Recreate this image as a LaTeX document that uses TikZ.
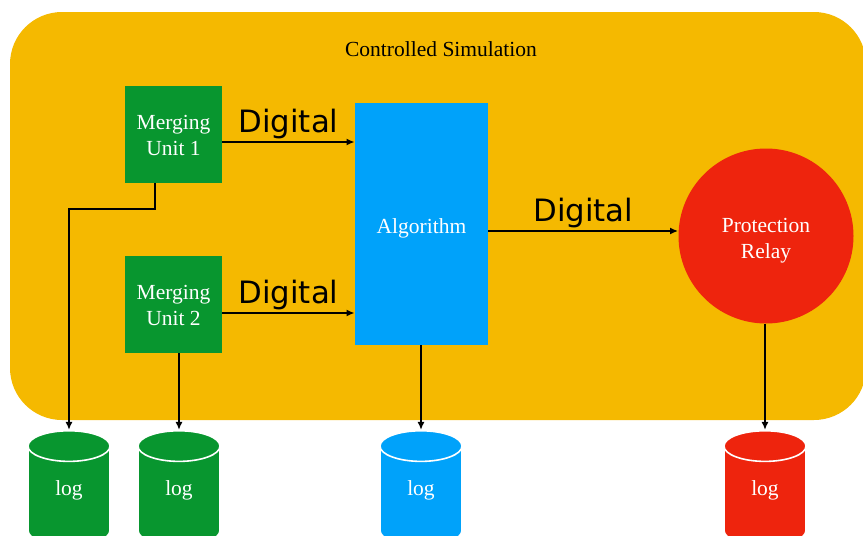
\documentclass[tikz,border=0pt]{standalone}
\usepackage{fontspec}
\setmainfont{Liberation Serif}
\newfontfamily\digitalfont{DejaVu Sans}
\usetikzlibrary{positioning,shapes.geometric,arrows.meta}
\definecolor{simorange}{HTML}{F5B900}
\definecolor{mugreen}{HTML}{08962F}
\definecolor{algblue}{HTML}{00A2FA}
\definecolor{relayred}{HTML}{EE240D}
\newcommand{\shiftlines}[2]{\raisebox{#1}[\height][\depth]{\begin{tabular}{@{}c@{}}#2\end{tabular}}}

\begin{document}
\begin{tikzpicture}[x=0.5pt,y=-0.5pt,every node/.style={font=\fontsize{10.75}{13}\selectfont, align=center},mubox/.style={rectangle, fill=mugreen, text=white, minimum width=48.5pt, minimum height=48.5pt},algbox/.style={rectangle, fill=algblue, text=white, minimum width=66.5pt, minimum height=121pt},relaynode/.style={circle, fill=relayred, text=white, minimum size=87.5pt},logdb/.style={cylinder, shape border rotate=90, aspect=0.75, draw=white, line width=0.8pt, cylinder uses custom fill, cylinder body fill=#1, cylinder end fill=#1, text=white, minimum width=41pt, minimum height=57.5pt},digital/.style={font=\digitalfont\fontsize{15.4}{18}\selectfont, above=0pt, inner sep=1pt},flow/.style={line width=1pt, -{Latex[length=4pt,width=3.5pt]}}]
\clip (0,0) rectangle (863,536);
\fill[simorange, rounded corners=26pt] (10,12) rectangle (866,420);
\node (title) at (441,49) {Controlled Simulation};
\node[mubox] (mu1) at (173.5,134.5) {\shiftlines{-1.5pt}{Merging\\Unit 1}};
\node[mubox] (mu2) at (173.5,304.5) {\shiftlines{-1.5pt}{Merging\\Unit 2}};
\node[algbox] (alg) at (421.5,224) {\shiftlines{-2pt}{Algorithm}};
\node[relaynode] (relay) at (766,236) {\shiftlines{-2pt}{Protection\\Relay}};
\node[logdb=mugreen] (log1) at (69,500.5) {\shiftlines{5pt}{log}};
\node[logdb=mugreen] (log2) at (179,500.5) {\shiftlines{5pt}{log}};
\node[logdb=algblue] (log3) at (421,500.5) {\shiftlines{5pt}{log}};
\node[logdb=relayred] (log4) at (765,500.5) {\shiftlines{5pt}{log}};
\coordinate (d1) at ([yshift=-3.75pt]mu1.east);
\coordinate (d2) at ([yshift=-4.25pt]mu2.east);
\coordinate (d3) at ([yshift=2.5pt]relay.west);
\draw[flow] (d1) -- node[digital] {Digital} (d1 -| alg.west);
\draw[flow] (d2) -- node[digital] {Digital} (d2 -| alg.west);
\draw[flow] (alg.east |- d3) -- node[digital] {Digital} (d3);
\draw[flow] ([xshift=15pt]mu1.south west) -- ++(0,26) -| (log1.north);
\draw[flow] (mu2.south -| log2.north) -- (log2.north);
\draw[flow] (alg.south -| log3.north) -- (log3.north);
\draw[flow] (relay.south -| log4.north) -- (log4.north);
\end{tikzpicture}
\end{document}
